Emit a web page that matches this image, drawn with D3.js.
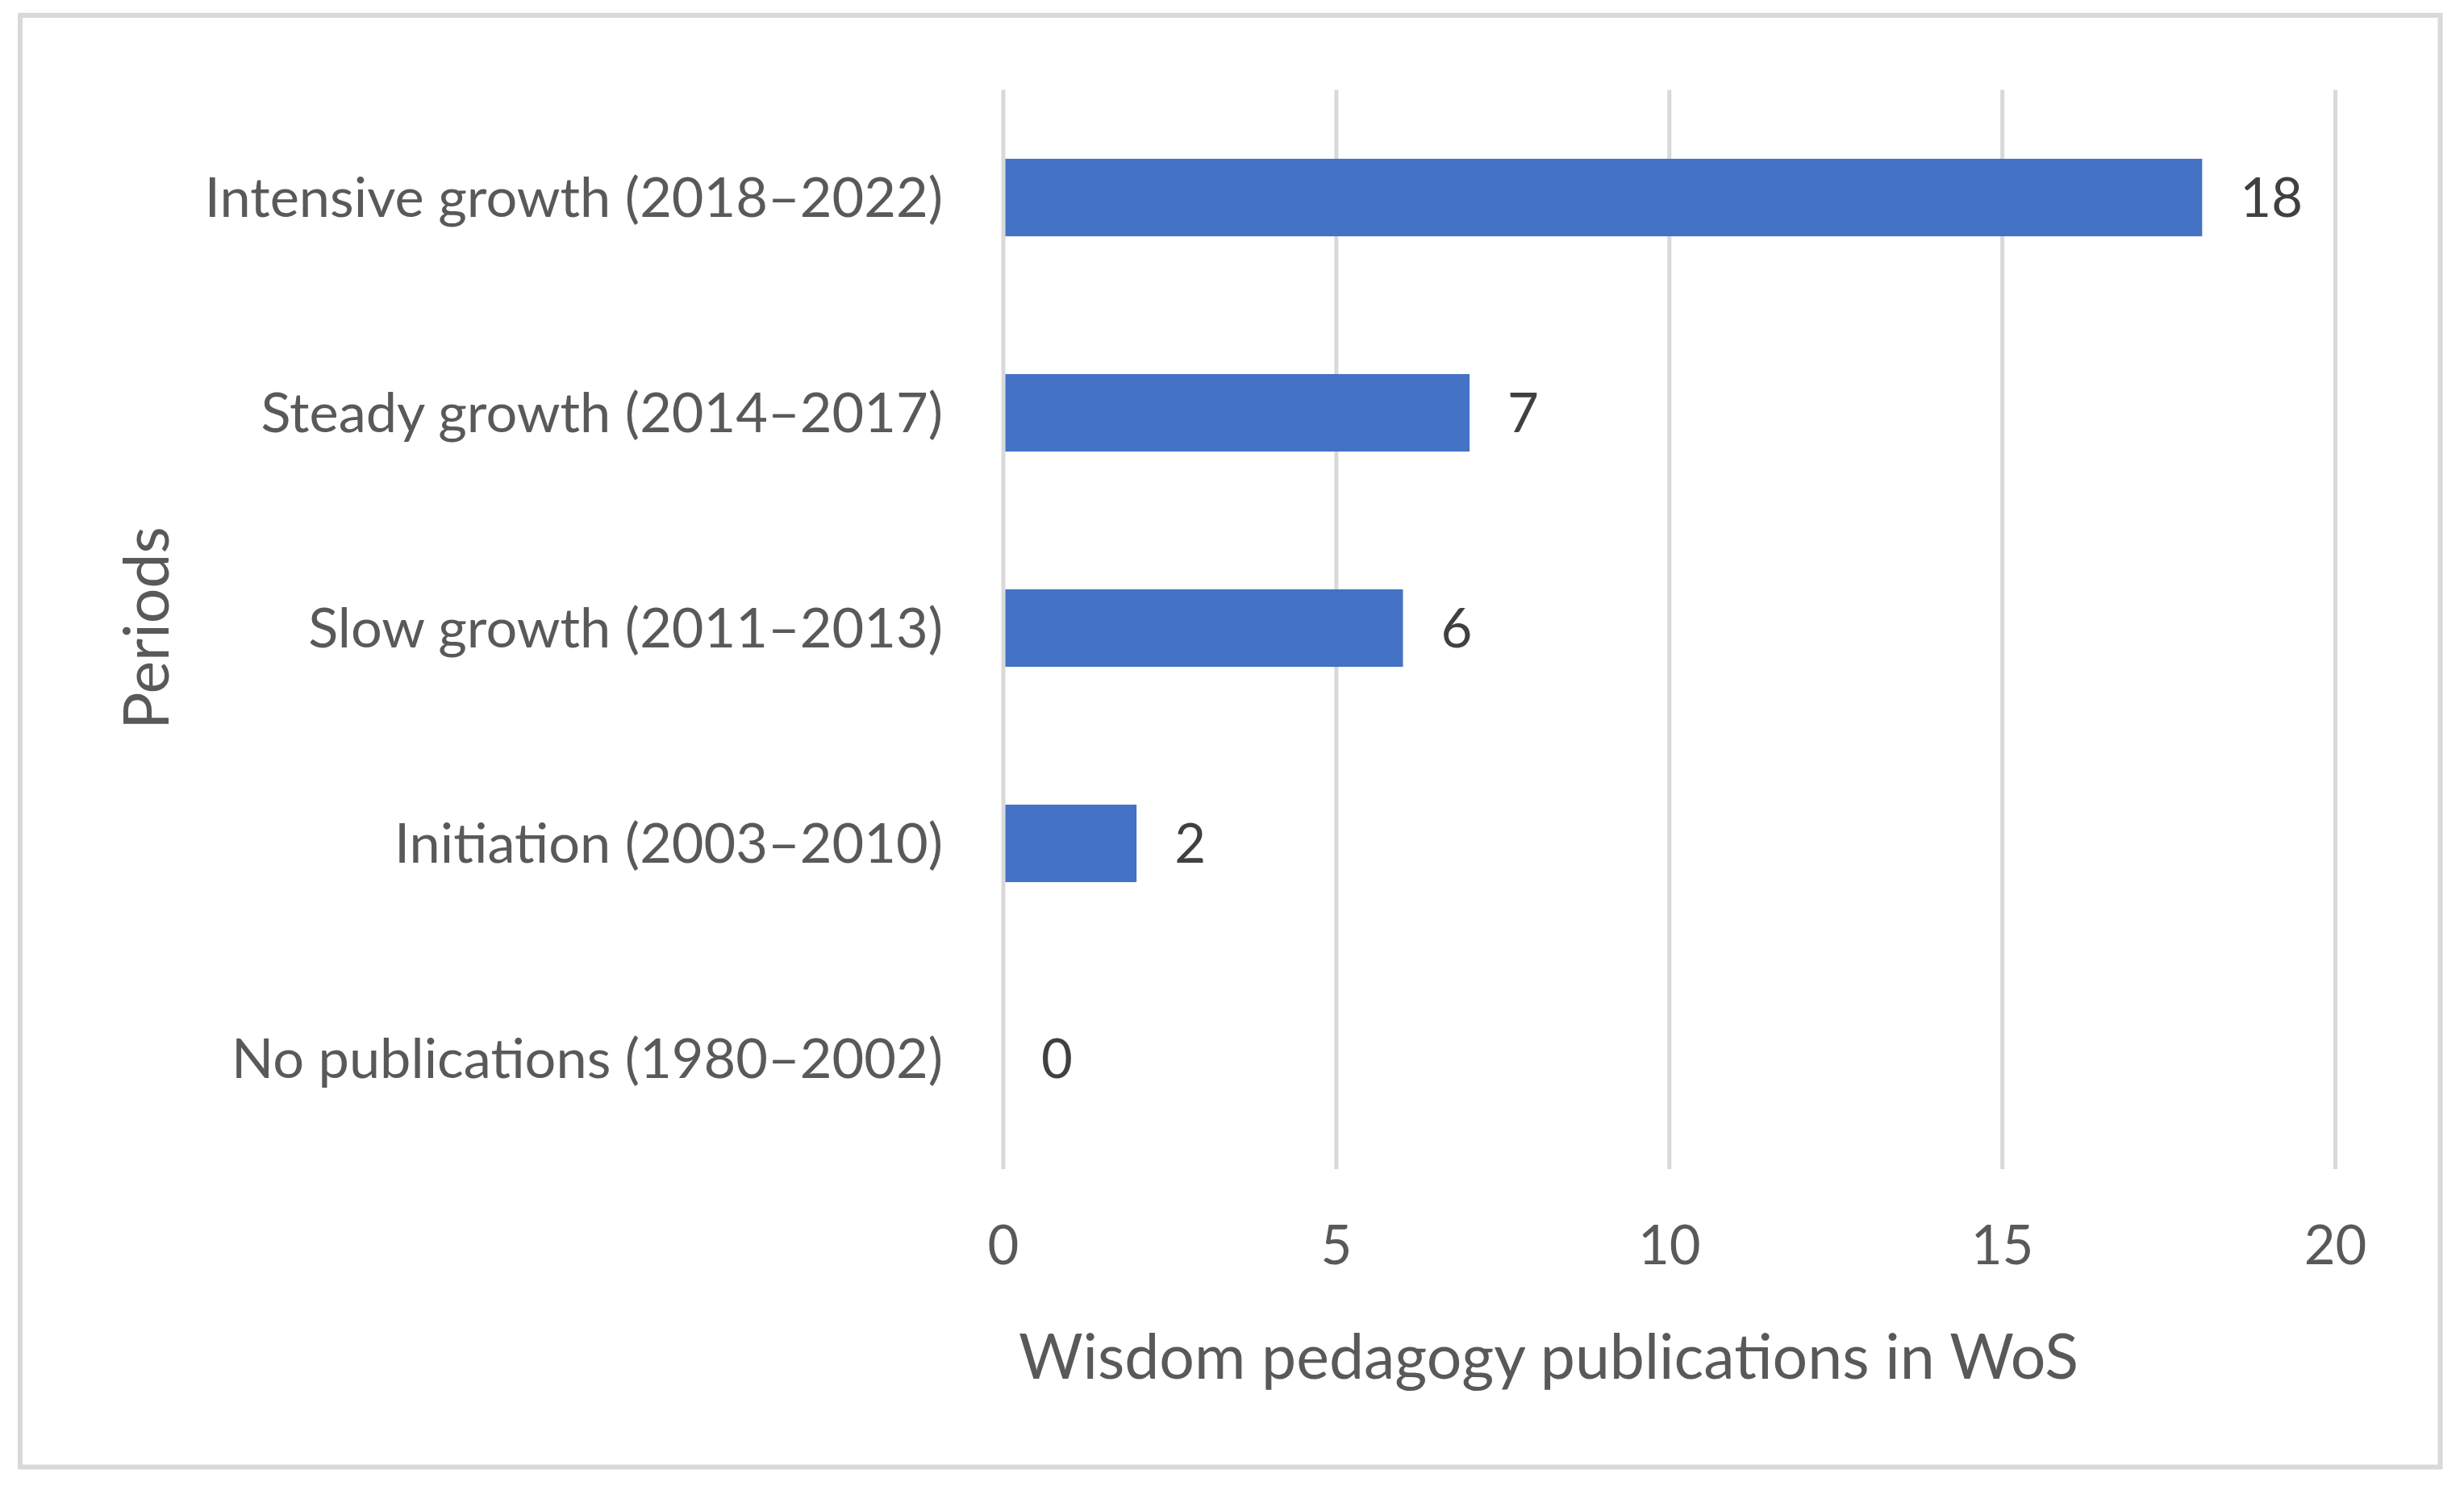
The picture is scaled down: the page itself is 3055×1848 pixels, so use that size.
<!DOCTYPE html>
<html>
<head>
<meta charset="utf-8">
<script src="https://cdn.jsdelivr.net/npm/d3@7/dist/d3.min.js"></script>
<style>
  html, body { margin: 0; padding: 0; background: #ffffff; }
  svg { display: block; }
  text { font-family: Lato, "Open Sans", sans-serif; }
</style>
</head>
<body>
<svg id="chart" width="3055" height="1848"></svg>
<script>
const categories = [
  "Intensive growth (2018–2022)",
  "Steady growth (2014–2017)",
  "Slow growth (2011–2013)",
  "Initiation (2003–2010)",
  "No publications (1980–2002)"
];
const values = [18, 7, 6, 2, 0];
const xTicks = [0, 5, 10, 15, 20];
const xTitle = "Wisdom pedagogy publications in WoS";
const yTitle = "Periods";

const svg = d3.select("#chart");

// outer chart border
svg.append("rect")
  .attr("x", 25).attr("y", 19)
  .attr("width", 3025.5 - 25).attr("height", 1819.5 - 19)
  .attr("fill", "#ffffff")
  .attr("stroke", "#d9d9d9").attr("stroke-width", 6);

const plot = { left: 1244, right: 2895.5, top: 111.5, bottom: 1446.5 };

const x = d3.scaleLinear().domain([0, 20]).range([plot.left, plot.right]);
const y = d3.scaleBand().domain(categories).range([plot.top, plot.bottom]).paddingInner(0.64).paddingOuter(0.32);

// gridlines
svg.append("g").selectAll("line").data(xTicks).join("line")
  .attr("x1", d => x(d)).attr("x2", d => x(d))
  .attr("y1", plot.top).attr("y2", 1450)
  .attr("stroke", "#d9d9d9").attr("stroke-width", 5);

// bars
svg.append("g").selectAll("rect").data(values).join("rect")
  .attr("x", x(0) + 2.5)
  .attr("y", (d, i) => y(categories[i]))
  .attr("width", d => Math.max(0, x(d) - x(0) - 2.5))
  .attr("height", y.bandwidth())
  .attr("fill", "#4472c4")
  .attr("display", d => d > 0 ? null : "none");

// category labels
const labelSize = 68.5;
svg.append("g").selectAll("text").data(categories).join("text")
  .attr("x", 1169)
  .attr("y", d => y(d) + y.bandwidth() / 2 + 24)
  .attr("text-anchor", "end")
  .attr("font-size", labelSize)
  .attr("fill", "#595959")
  .text(d => d);

// value labels
svg.append("g").selectAll("text").data(values).join("text")
  .attr("x", d => x(d) + 47)
  .attr("y", (d, i) => y(categories[i]) + y.bandwidth() / 2 + 24)
  .attr("font-size", 67)
  .attr("fill", "#404040")
  .text(d => d);

// x tick labels
svg.append("g").selectAll("text").data(xTicks).join("text")
  .attr("x", d => x(d))
  .attr("y", 1568)
  .attr("text-anchor", "middle")
  .attr("font-size", 67)
  .attr("fill", "#595959")
  .text(d => d);

// axis titles
svg.append("text")
  .attr("x", 1920).attr("y", 1710)
  .attr("text-anchor", "middle")
  .attr("font-size", 77)
  .attr("fill", "#595959")
  .text(xTitle);

svg.append("text")
  .attr("transform", "translate(209,779) rotate(-90)")
  .attr("text-anchor", "middle")
  .attr("font-size", 77)
  .attr("fill", "#595959")
  .text(yTitle);
</script>
</body>
</html>
